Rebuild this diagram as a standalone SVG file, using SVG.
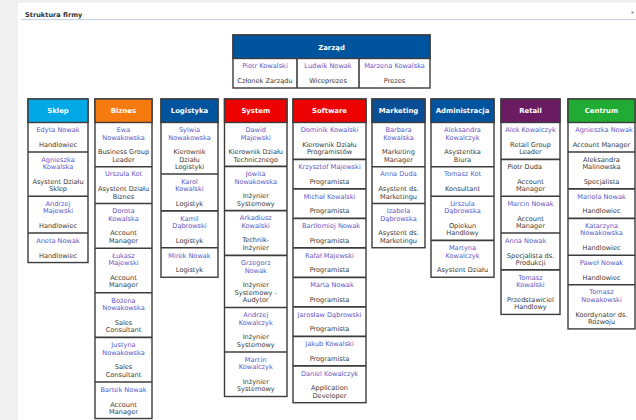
<svg xmlns="http://www.w3.org/2000/svg" width="636" height="420" viewBox="0 0 636 420">
  <style>
    text { font-family: "DejaVu Sans", Verdana, "Liberation Sans", sans-serif; text-anchor: middle; }
    .title { font-size: 6.6px; font-weight: bold; fill: #333; text-anchor: start; }
    .hd { font-size: 6.9px; font-weight: bold; fill: #fff; }
    .n { font-size: 6.6px; fill: #5b58c6; }
    .r { font-size: 6.6px; fill: #3a3a3a; }
    .box { fill: #fff; stroke: #3c3c3c; stroke-width: 1.4; }
    .sep { stroke: #3c3c3c; stroke-width: 1.6; }
    .l { text-anchor: start; }
  </style>

  <!-- page background and panel -->
  <rect x="0" y="0" width="636" height="420" fill="#f0f0f0"/>
  <rect x="18" y="3" width="618" height="417" fill="#fff"/>
  <text class="title" x="25" y="16.5">Struktura firmy</text>
  <rect x="631.5" y="11.5" width="2" height="2" fill="#8a8a8a"/>
  <line x1="21" y1="19.7" x2="636" y2="19.7" stroke="#c0cde3" stroke-width="1"/>

  <!-- board -->
  <g id="zarzad">
    <rect class="box" x="233" y="35" width="197" height="53"/>
    <rect x="233" y="35" width="197" height="23.5" fill="#00549e" stroke="#3c3c3c" stroke-width="1.4"/>
    <text class="hd" x="331.5" y="49.5">Zarząd</text>
    <line class="sep" x1="297" y1="58.5" x2="297" y2="88"/>
    <line class="sep" x1="359" y1="58.5" x2="359" y2="88"/>
    <text class="n" x="265" y="68">Piotr Kowalski</text>
    <text class="r" x="265" y="83">Członek Zarządu</text>
    <text class="n" x="328" y="68">Ludwik Nowak</text>
    <text class="r" x="328" y="83">Wiceprezes</text>
    <text class="n" x="394.5" y="68">Marzena Kowalska</text>
    <text class="r" x="394.5" y="83">Prezes</text>
  </g>

  <g id="connectors"/>

  <!-- Sklep -->
  <g id="sklep" transform="translate(58,0)">
    <rect class="box" x="-30" y="99" width="60" height="163.55"/>
    <rect x="-30" y="99" width="60" height="23.5" fill="#00a9e6" stroke="#3c3c3c" stroke-width="1.4"/>
    <text class="hd" x="0" y="113.3">Sklep</text>
    <line class="sep" x1="-30" y1="152" x2="30" y2="152"/>
    <line class="sep" x1="-30" y1="196.2" x2="30" y2="196.2"/>
    <line class="sep" x1="-30" y1="233.05" x2="30" y2="233.05"/>
    <g transform="translate(0,122.5)"><text class="n" y="9.8">Edyta Nowak</text><text class="r" y="24.5">Handlowiec</text></g>
    <g transform="translate(0,152)"><text class="n" y="9.8">Agnieszka</text><text class="n" y="17.15">Kowalska</text><text class="r" y="31.85">Asystent Działu</text><text class="r" y="39.2">Sklep</text></g>
    <g transform="translate(0,196.2)"><text class="n" y="9.8">Andrzej</text><text class="n" y="17.15">Majewski</text><text class="r" y="31.85">Handlowiec</text></g>
    <g transform="translate(0,233.05)"><text class="n" y="9.8">Aneta Nowak</text><text class="r" y="24.5">Handlowiec</text></g>
  </g>

  <!-- Biznes -->
  <g id="biznes" transform="translate(123.5,0)">
    <rect class="box" x="-28.5" y="99" width="57" height="319.5"/>
    <rect x="-28.5" y="99" width="57" height="23.5" fill="#f77a0e" stroke="#3c3c3c" stroke-width="1.4"/>
    <text class="hd" x="0" y="113.3">Biznes</text>
    <line class="sep" x1="-28.5" y1="166.7" x2="28.5" y2="166.7"/>
    <line class="sep" x1="-28.5" y1="203.55" x2="28.5" y2="203.55"/>
    <line class="sep" x1="-28.5" y1="248.2" x2="28.5" y2="248.2"/>
    <line class="sep" x1="-28.5" y1="292.8" x2="28.5" y2="292.8"/>
    <line class="sep" x1="-28.5" y1="337.4" x2="28.5" y2="337.4"/>
    <line class="sep" x1="-28.5" y1="382" x2="28.5" y2="382"/>
    <g transform="translate(0,122.5)"><text class="n" y="9.8">Ewa</text><text class="n" y="17.15">Nowakowska</text><text class="r" y="31.85">Business Group</text><text class="r" y="39.2">Leader</text></g>
    <g transform="translate(0,166.7)"><text class="n" y="9.8">Urszula Kot</text><text class="r" y="24.5">Asystent Działu</text><text class="r" y="31.85">Biznes</text></g>
    <g transform="translate(0,203.55)"><text class="n" y="9.8">Dorota</text><text class="n" y="17.15">Kowalska</text><text class="r" y="31.85">Account</text><text class="r" y="39.2">Manager</text></g>
    <g transform="translate(0,248.2)"><text class="n" y="9.8">Łukasz</text><text class="n" y="17.15">Majewski</text><text class="r" y="31.85">Account</text><text class="r" y="39.2">Manager</text></g>
    <g transform="translate(0,292.8)"><text class="n" y="9.8">Bożena</text><text class="n" y="17.15">Nowakowska</text><text class="r" y="31.85">Sales</text><text class="r" y="39.2">Consultant</text></g>
    <g transform="translate(0,337.4)"><text class="n" y="9.8">Justyna</text><text class="n" y="17.15">Nowakowska</text><text class="r" y="31.85">Sales</text><text class="r" y="39.2">Consultant</text></g>
    <g transform="translate(0,382)"><text class="n" y="9.8">Bartek Nowak</text><text class="r" y="24.5">Account</text><text class="r" y="31.85">Manager</text></g>
  </g>

  <!-- Logistyka -->
  <g id="logistyka" transform="translate(189.5,0)">
    <rect class="box" x="-28.5" y="99" width="57" height="178.25"/>
    <rect x="-28.5" y="99" width="57" height="23.5" fill="#00549e" stroke="#3c3c3c" stroke-width="1.4"/>
    <text class="hd" x="0" y="113.3">Logistyka</text>
    <line class="sep" x1="-28.5" y1="174.05" x2="28.5" y2="174.05"/>
    <line class="sep" x1="-28.5" y1="210.9" x2="28.5" y2="210.9"/>
    <line class="sep" x1="-28.5" y1="247.75" x2="28.5" y2="247.75"/>
    <g transform="translate(0,122.5)"><text class="n" y="9.8">Sylwia</text><text class="n" y="17.15">Nowakowska</text><text class="r" y="31.85">Kierownik</text><text class="r" y="39.2">Działu</text><text class="r" y="46.55">Logistyki</text></g>
    <g transform="translate(0,174.05)"><text class="n" y="9.8">Karol</text><text class="n" y="17.15">Kowalski</text><text class="r" y="31.85">Logistyk</text></g>
    <g transform="translate(0,210.9)"><text class="n" y="9.8">Kamil</text><text class="n" y="17.15">Dąbrowski</text><text class="r" y="31.85">Logistyk</text></g>
    <g transform="translate(0,247.75)"><text class="n" y="9.8">Mirek Nowak</text><text class="r" y="24.5">Logistyk</text></g>
  </g>

  <!-- System -->
  <g id="system" transform="translate(255.75,0)">
    <rect class="box" x="-31.25" y="99" width="62.5" height="297.5"/>
    <rect x="-31.25" y="99" width="62.5" height="23.5" fill="#ec0000" stroke="#3c3c3c" stroke-width="1.4"/>
    <text class="hd" x="0" y="113.3">System</text>
    <line class="sep" x1="-31.25" y1="166.4" x2="31.25" y2="166.4"/>
    <line class="sep" x1="-31.25" y1="210.6" x2="31.25" y2="210.6"/>
    <line class="sep" x1="-31.25" y1="255.4" x2="31.25" y2="255.4"/>
    <line class="sep" x1="-31.25" y1="307.5" x2="31.25" y2="307.5"/>
    <line class="sep" x1="-31.25" y1="352" x2="31.25" y2="352"/>
    <g transform="translate(0,122.5)"><text class="n" y="9.8">Dawid</text><text class="n" y="17.15">Majewski</text><text class="r" y="31.85">Kierownik Działu</text><text class="r" y="39.2">Technicznego</text></g>
    <g transform="translate(0,166.4)"><text class="n" y="9.8">Jowita</text><text class="n" y="17.15">Nowakowska</text><text class="r" y="31.85">Inżynier</text><text class="r" y="39.2">Systemowy</text></g>
    <g transform="translate(0,210.6)"><text class="n" y="9.8">Arkadiusz</text><text class="n" y="17.15">Kowalski</text><text class="r" y="31.85">Technik-</text><text class="r" y="39.2">Inżynier</text></g>
    <g transform="translate(0,255.4)"><text class="n" y="9.8">Grzegorz</text><text class="n" y="17.15">Nowak</text><text class="r" y="31.85">Inżynier</text><text class="r" y="39.2">Systemowy -</text><text class="r" y="46.55">Audytor</text></g>
    <g transform="translate(0,307.5)"><text class="n" y="9.8">Andrzej</text><text class="n" y="17.15">Kowalczyk</text><text class="r" y="31.85">Inżynier</text><text class="r" y="39.2">Systemowy</text></g>
    <g transform="translate(0,352)"><text class="n" y="9.8">Marcin</text><text class="n" y="17.15">Kowalczyk</text><text class="r" y="31.85">Inżynier</text><text class="r" y="39.2">Systemowy</text></g>
  </g>

  <!-- Software -->
  <g id="software" transform="translate(329.5,0)">
    <rect class="box" x="-36.5" y="99" width="73" height="303.7"/>
    <rect x="-36.5" y="99" width="73" height="23.5" fill="#ec0000" stroke="#3c3c3c" stroke-width="1.4"/>
    <text class="hd" x="0" y="113.3">Software</text>
    <line class="sep" x1="-36.5" y1="159.35" x2="36.5" y2="159.35"/>
    <line class="sep" x1="-36.5" y1="188.85" x2="36.5" y2="188.85"/>
    <line class="sep" x1="-36.5" y1="218.35" x2="36.5" y2="218.35"/>
    <line class="sep" x1="-36.5" y1="247.85" x2="36.5" y2="247.85"/>
    <line class="sep" x1="-36.5" y1="277.35" x2="36.5" y2="277.35"/>
    <line class="sep" x1="-36.5" y1="306.85" x2="36.5" y2="306.85"/>
    <line class="sep" x1="-36.5" y1="336.35" x2="36.5" y2="336.35"/>
    <line class="sep" x1="-36.5" y1="365.85" x2="36.5" y2="365.85"/>
    <g transform="translate(0,122.5)"><text class="n" y="9.8">Dominik Kowalski</text><text class="r" y="24.5">Kierownik Działu</text><text class="r" y="31.85">Programistów</text></g>
    <g transform="translate(0,159.35)"><text class="n" y="9.8">Krzysztof Majewski</text><text class="r" y="24.5">Programista</text></g>
    <g transform="translate(0,188.85)"><text class="n" y="9.8">Michał Kowalski</text><text class="r" y="24.5">Programista</text></g>
    <g transform="translate(0,218.35)"><text class="n" x="1.5" y="9.8">Bartłomiej Nowak</text><text class="r" y="24.5">Programista</text></g>
    <g transform="translate(0,247.85)"><text class="n" y="9.8">Rafał Majewski</text><text class="r" y="24.5">Programista</text></g>
    <g transform="translate(0,277.35)"><text class="n" x="2.5" y="9.8">Marta Nowak</text><text class="r" y="24.5">Programista</text></g>
    <g transform="translate(0,306.85)"><text class="n" y="9.8">Jarosław Dąbrowski</text><text class="r" y="24.5">Programista</text></g>
    <g transform="translate(0,336.35)"><text class="n" y="9.8">Jakub Kowalski</text><text class="r" y="24.5">Programista</text></g>
    <g transform="translate(0,365.85)"><text class="n" y="9.8">Daniel Kowalczyk</text><text class="r" y="24.5">Application</text><text class="r" y="31.85">Developer</text></g>
  </g>

  <!-- Marketing -->
  <g id="marketing" transform="translate(398.5,0)">
    <rect class="box" x="-26.5" y="99" width="53" height="148.75"/>
    <rect x="-26.5" y="99" width="53" height="23.5" fill="#0a4f96" stroke="#3c3c3c" stroke-width="1.4"/>
    <text class="hd" x="0" y="113.3">Marketing</text>
    <line class="sep" x1="-26.5" y1="166.7" x2="26.5" y2="166.7"/>
    <line class="sep" x1="-26.5" y1="203.55" x2="26.5" y2="203.55"/>
    <g transform="translate(0,122.5)"><text class="n" y="9.8">Barbara</text><text class="n" y="17.15">Kowalska</text><text class="r" y="31.85">Marketing</text><text class="r" y="39.2">Manager</text></g>
    <g transform="translate(0,166.7)"><text class="n" y="9.8">Anna Duda</text><text class="r" y="24.5">Asystent ds.</text><text class="r" y="31.85">Marketingu</text></g>
    <g transform="translate(0,203.55)"><text class="n" y="9.8">Izabela</text><text class="n" y="17.15">Dąbrowska</text><text class="r" y="31.85">Asystent ds.</text><text class="r" y="39.2">Marketingu</text></g>
  </g>

  <!-- Administracja -->
  <g id="administracja" transform="translate(462.5,0)">
    <rect class="box" x="-31.5" y="99" width="63" height="178.25"/>
    <rect x="-31.5" y="99" width="63" height="23.5" fill="#00549e" stroke="#3c3c3c" stroke-width="1.4"/>
    <text class="hd" x="0" y="113.3">Administracja</text>
    <line class="sep" x1="-31.5" y1="166.7" x2="31.5" y2="166.7"/>
    <line class="sep" x1="-31.5" y1="196.2" x2="31.5" y2="196.2"/>
    <line class="sep" x1="-31.5" y1="240.4" x2="31.5" y2="240.4"/>
    <g transform="translate(0,122.5)"><text class="n" y="9.8">Aleksandra</text><text class="n" y="17.15">Kowalczyk</text><text class="r" y="31.85">Asystentka</text><text class="r" y="39.2">Biura</text></g>
    <g transform="translate(0,166.7)"><text class="n" y="9.8">Tomasz Kot</text><text class="r" y="24.5">Konsultant</text></g>
    <g transform="translate(0,196.2)"><text class="n" y="9.8">Urszula</text><text class="n" y="17.15">Dąbrowska</text><text class="r" y="31.85">Opiekun</text><text class="r" y="39.2">Handlowy</text></g>
    <g transform="translate(0,240.4)"><text class="n" y="9.8">Martyna</text><text class="n" y="17.15">Kowalczyk</text><text class="r" y="31.85">Asystent Działu</text></g>
  </g>

  <!-- Retail -->
  <g id="retail" transform="translate(530.5,0)">
    <rect class="box" x="-29.5" y="99" width="59" height="215.4"/>
    <rect x="-29.5" y="99" width="59" height="23.5" fill="#6b1b61" stroke="#3c3c3c" stroke-width="1.4"/>
    <text class="hd" x="0" y="113.3">Retail</text>
    <line class="sep" x1="-29.5" y1="159.35" x2="29.5" y2="159.35"/>
    <line class="sep" x1="-29.5" y1="196.2" x2="29.5" y2="196.2"/>
    <line class="sep" x1="-29.5" y1="233.05" x2="29.5" y2="233.05"/>
    <line class="sep" x1="-29.5" y1="269.9" x2="29.5" y2="269.9"/>
    <g transform="translate(0,122.5)"><text class="n" y="9.8">Alek Kowalczyk</text><text class="r" y="24.5">Retail Group</text><text class="r" y="31.85">Leader</text></g>
    <g transform="translate(0,159.35)"><text class="n l" x="-23" y="9.8" fill="#333" style="fill:#333">Piotr Duda</text><text class="r" y="24.5">Account</text><text class="r" y="31.85">Manager</text></g>
    <g transform="translate(0,196.2)"><text class="n" y="9.8">Marcin Nowak</text><text class="r" y="24.5">Account</text><text class="r" y="31.85">Manager</text></g>
    <g transform="translate(0,233.05)"><text class="n l" x="-25.5" y="9.8">Anna Nowak</text><text class="r" y="24.5">Specjalista ds.</text><text class="r" y="31.85">Produkcji</text></g>
    <g transform="translate(0,269.9)"><text class="n" y="9.8">Tomasz</text><text class="n" y="17.15">Kowalski</text><text class="r" y="31.85">Przedstawiciel</text><text class="r" y="39.2">Handlowy</text></g>
  </g>

  <!-- Centrum -->
  <g id="centrum" transform="translate(601.5,0)">
    <rect class="box" x="-33.5" y="99" width="67" height="229.9"/>
    <rect x="-33.5" y="99" width="67" height="23.5" fill="#20ab35" stroke="#3c3c3c" stroke-width="1.4"/>
    <text class="hd" x="0" y="113.3">Centrum</text>
    <line class="sep" x1="-33.5" y1="152" x2="33.5" y2="152"/>
    <line class="sep" x1="-33.5" y1="188.85" x2="33.5" y2="188.85"/>
    <line class="sep" x1="-33.5" y1="218.35" x2="33.5" y2="218.35"/>
    <line class="sep" x1="-33.5" y1="255.2" x2="33.5" y2="255.2"/>
    <line class="sep" x1="-33.5" y1="284.7" x2="33.5" y2="284.7"/>
    <g transform="translate(0,122.5)"><text class="n" x="2.5" y="9.8">Agnieszka Nowak</text><text class="r" y="24.5">Account Manager</text></g>
    <g transform="translate(0,152)"><text class="r" y="9.8">Aleksandra</text><text class="r" y="17.15">Malinowska</text><text class="r" y="31.85">Specjalista</text></g>
    <g transform="translate(0,188.85)"><text class="n" y="9.8">Mariola Nowak</text><text class="r" y="24.5">Handlowiec</text></g>
    <g transform="translate(0,218.35)"><text class="n" y="9.8">Katarzyna</text><text class="n" y="17.15">Nowakowska</text><text class="r" y="31.85">Handlowiec</text></g>
    <g transform="translate(0,255.2)"><text class="n" y="9.8">Paweł Nowak</text><text class="r" y="24.5">Handlowiec</text></g>
    <g transform="translate(0,284.7)"><text class="n" y="9.8">Tomasz</text><text class="n" y="17.15">Nowakowski</text><text class="r" y="31.85">Koordynator ds.</text><text class="r" y="39.2">Rozwoju</text></g>
  </g>
</svg>
